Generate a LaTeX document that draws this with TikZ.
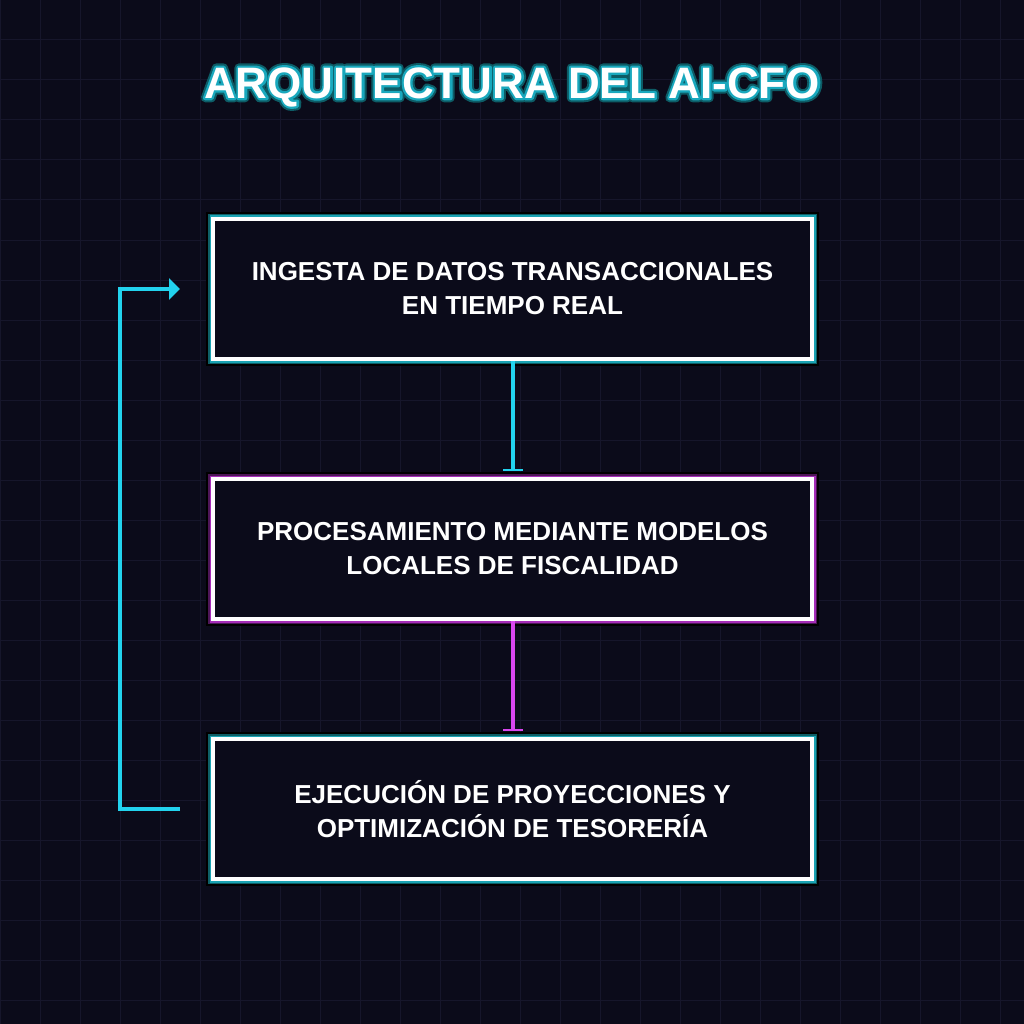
\documentclass[tikz,border=0pt]{standalone}
\usepackage{fontspec}
\setmainfont{Liberation Sans}
\usetikzlibrary{arrows.meta}
\definecolor{bg}{HTML}{0B0B1A}
\definecolor{gridc}{HTML}{16162B}
\definecolor{cyanl}{HTML}{22D3EE}
\definecolor{magl}{HTML}{D946EF}
\definecolor{tealdark}{HTML}{0E5F66}
\definecolor{tealmid}{HTML}{1AA3B3}
\definecolor{purdark}{HTML}{4E1658}
\definecolor{purmid}{HTML}{A52DB8}
\newcommand{\strokedtext}[3]{\special{pdf:literal direct 1 Tr #1 w 1 j #2 RG}#3\special{pdf:literal direct 0 Tr 1 w}}
\tikzset{
  boxtext/.style={font=\bfseries\fontsize{26}{34}\selectfont, text=white, align=center},
  tealbox/.style={boxtext, draw=white, fill=bg, line width=4, minimum width=599, minimum height=140, inner sep=0,
    preaction={draw=black, line width=14},
    preaction={draw=tealdark, line width=10},
    preaction={draw=tealmid, line width=7}},
  purbox/.style={boxtext, draw=white, fill=bg, line width=4, minimum width=599, minimum height=140, inner sep=0,
    preaction={draw=black, line width=14},
    preaction={draw=purdark, line width=10},
    preaction={draw=purmid, line width=7}},
  flowc/.style={line width=4, draw=cyanl, -{Rectangle[length=2.5,width=20]}, shorten >=6},
  flowm/.style={line width=4, draw=magl, -{Rectangle[length=2.5,width=20]}, shorten >=6},
  loopline/.style={line width=4, draw=cyanl, -{Triangle[length=11,width=21]}},
  titlefont/.style={font=\bfseries\fontsize{44}{44}\selectfont}
}
\begin{document}
\begin{tikzpicture}[x=1pt,y=-1pt]
\useasboundingbox (0,0) rectangle (1024,1024);
\fill[bg] (0,0) rectangle (1024,1024);
\foreach \g in {0,40,...,1000} {
  \draw[gridc, line width=1] (\g,0) -- (\g,1024);
  \draw[gridc, line width=1] (0,\g) -- (1024,\g);
}
\node[titlefont, text=white] (titleglow) at (512,87) {\strokedtext{8.5}{0.05 0.36 0.40}{ARQUITECTURA DEL AI-CFO}};
\node[titlefont, text=white] (titleedge) at (512,87) {\strokedtext{4.5}{0.10 0.66 0.74}{ARQUITECTURA DEL AI-CFO}};
\node[titlefont, text=white] (title) at (512,87) {ARQUITECTURA DEL AI-CFO};

\node[tealbox] (b1) at (512.5,289) {INGESTA DE DATOS TRANSACCIONALES\\EN TIEMPO REAL};
\node[purbox] (b2) at (512.5,549) {PROCESAMIENTO MEDIANTE MODELOS\\LOCALES DE FISCALIDAD};
\node[tealbox] (b3) at (512.5,809) {EJECUCIÓN DE PROYECCIONES Y\\OPTIMIZACIÓN DE TESORERÍA};

\draw[flowc] (b1.south) -- (b2.north);
\draw[flowm] (b2.south) -- (b3.north);
\draw[loopline] ([xshift=-31]b3.west) -- ++(-60,0) |- ([xshift=-31]b1.west);
\end{tikzpicture}
\end{document}
